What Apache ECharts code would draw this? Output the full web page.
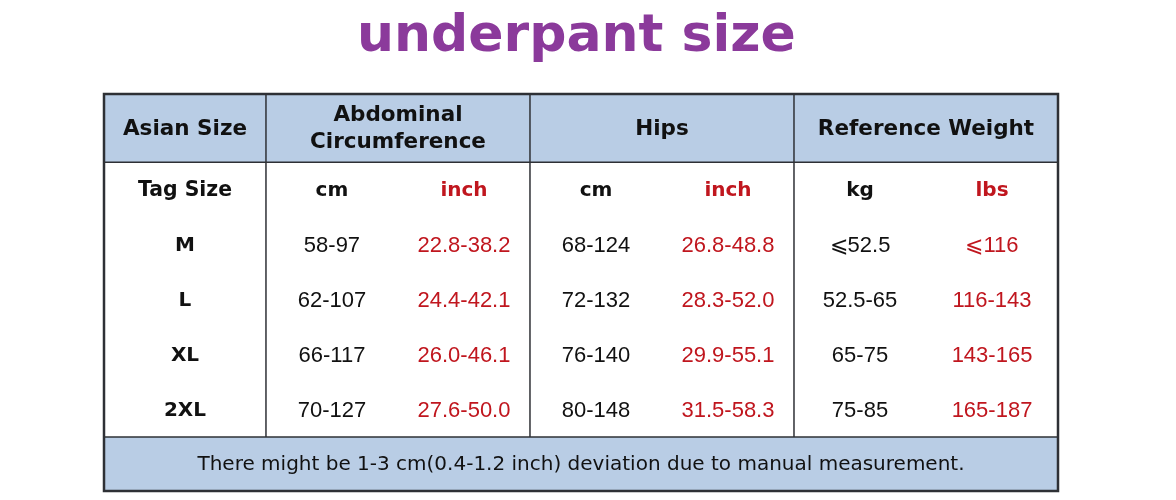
<!DOCTYPE html>
<html>
<head>
<meta charset="utf-8">
<script src="https://cdn.jsdelivr.net/npm/echarts@6/dist/echarts.min.js"></script>
<style>
html,body{margin:0;padding:0;background:#fff;}
#chart{width:1176px;height:500px;}
</style>
</head>
<body>
<div id="chart"></div>
<script>
// ---- data ----
var titleText = 'underpant size';
var groupHeaders = ['Asian Size', 'Abdominal\nCircumference', 'Hips', 'Reference Weight'];
var unitLabels = ['Tag Size', 'cm', 'inch', 'cm', 'inch', 'kg', 'lbs'];
var tagSizes = ['M', 'L', 'XL', '2XL'];
var abdCm = ['58-97', '62-107', '66-117', '70-127'];
var abdInch = ['22.8-38.2', '24.4-42.1', '26.0-46.1', '27.6-50.0'];
var hipsCm = ['68-124', '72-132', '76-140', '80-148'];
var hipsInch = ['26.8-48.8', '28.3-52.0', '29.9-55.1', '31.5-58.3'];
var weightKg = ['\u2A7D52.5', '52.5-65', '65-75', '75-85'];
var weightLbs = ['\u2A7D116', '116-143', '143-165', '165-187'];
var noteText = 'There might be 1-3 cm(0.4-1.2 inch) deviation due to manual measurement.';

// ---- layout (table structure in axis units) ----
var colEdges = [0, 1.227, 2.227, 3.227, 4.227, 5.227, 6.227, 7.227];
var rowEdges = [0, 1.24, 2.24, 3.24, 4.24, 5.24, 6.24, 7.22];
var groupSpans = [[0, 1], [1, 3], [3, 5], [5, 7]];
var unitIsRed = [false, false, true, false, true, false, true];

var HEADER_BG = '#b9cde5';
var BORDER = '#2e3035';
var RED = '#c0161e';
var DARK = '#111111';

// build cell items
var cells = [];
groupHeaders.forEach(function (t, i) {
  cells.push({ value: [groupSpans[i][0], groupSpans[i][1], 0, 1], text: t, kind: 'head', color: DARK, bg: HEADER_BG });
});
unitLabels.forEach(function (t, i) {
  cells.push({ value: [i, i + 1, 1, 2], text: t, kind: i === 0 ? 'tagHead' : 'unit', color: unitIsRed[i] ? RED : DARK, bg: null });
});
var cols = [tagSizes, abdCm, abdInch, hipsCm, hipsInch, weightKg, weightLbs];
for (var r = 0; r < tagSizes.length; r++) {
  cols.forEach(function (arr, c) {
    cells.push({
      value: [c, c + 1, r + 2, r + 3], text: arr[r],
      kind: c === 0 ? 'tag' : 'body',
      color: unitIsRed[c] ? RED : DARK, bg: null
    });
  });
}
cells.push({ value: [0, 7, 6, 7], text: noteText, kind: 'note', color: DARK, bg: HEADER_BG });

var fonts = {
  head: { font: 'bold 21.5px "DejaVu Sans"', lh: 27 },
  tagHead: { font: 'bold 20.4px "DejaVu Sans"', lh: 24 },
  unit: { font: 'bold 20px "DejaVu Sans"', lh: 24 },
  tag: { font: 'bold 20px "DejaVu Sans"', lh: 24 },
  body: { font: '22px "Liberation Sans", Arial', lh: 24 },
  note: { font: '20px "DejaVu Sans"', lh: 24 }
};

// lines: [x0col, x1col, y0row, y1row]
var lines = [
  [1, 1, 0, 6], [3, 3, 0, 6], [5, 5, 0, 6],
  [0, 7, 1, 1], [0, 7, 6, 6]
];

var chart = echarts.init(document.getElementById('chart'), null, { renderer: 'canvas' });
chart.setOption({
  animation: false,
  backgroundColor: '#ffffff',
  title: {
    text: titleText,
    left: 352,
    top: 6,
    textStyle: { fontFamily: '"DejaVu Sans"', fontWeight: 'bold', fontSize: 52, color: '#8b3a9b' }
  },
  grid: { left: 104, right: 118, top: 94, bottom: 9 },
  xAxis: { type: 'value', min: 0, max: colEdges[7], show: false },
  yAxis: { type: 'value', min: 0, max: rowEdges[7], inverse: true, show: false },
  series: [
    {
      type: 'custom',
      coordinateSystem: 'cartesian2d',
      silent: true,
      data: cells,
      renderItem: function (params, api) {
        var item = cells[params.dataIndex];
        var v = item.value;
        var p0 = api.coord([colEdges[v[0]], rowEdges[v[2]]]);
        var p1 = api.coord([colEdges[v[1]], rowEdges[v[3]]]);
        var children = [];
        if (item.bg) {
          children.push({ type: 'rect', shape: { x: p0[0], y: p0[1], width: p1[0] - p0[0], height: p1[1] - p0[1] }, style: { fill: item.bg } });
        }
        var f = fonts[item.kind];
        children.push({
          type: 'text',
          style: {
            text: item.text, x: (p0[0] + p1[0]) / 2, y: (p0[1] + p1[1]) / 2 + 1,
            align: 'center', verticalAlign: 'middle',
            font: f.font, lineHeight: f.lh, fill: item.color
          }
        });
        return { type: 'group', children: children };
      }
    },
    {
      type: 'custom',
      coordinateSystem: 'cartesian2d',
      silent: true,
      data: lines,
      z: 5,
      renderItem: function (params, api) {
        var l = lines[params.dataIndex];
        var a = api.coord([colEdges[l[0]], rowEdges[l[2]]]);
        var b = api.coord([colEdges[l[1]], rowEdges[l[3]]]);
        return { type: 'line', shape: { x1: a[0], y1: a[1], x2: b[0], y2: b[1] }, style: { stroke: BORDER, lineWidth: 1.5 } };
      }
    },
    {
      type: 'custom',
      coordinateSystem: 'cartesian2d',
      silent: true,
      data: [[0]],
      z: 6,
      renderItem: function (params, api) {
        var a = api.coord([colEdges[0], rowEdges[0]]);
        var b = api.coord([colEdges[7], rowEdges[7]]);
        return { type: 'rect', shape: { x: a[0], y: a[1], width: b[0] - a[0], height: b[1] - a[1] }, style: { fill: null, stroke: BORDER, lineWidth: 2.5 } };
      }
    }
  ]
});
</script>
</body>
</html>
